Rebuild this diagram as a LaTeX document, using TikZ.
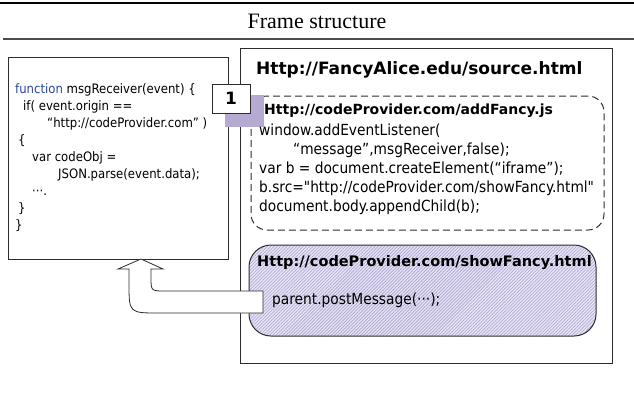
\documentclass[tikz,border=0pt]{standalone}
\usepackage{fontspec}
\setmainfont{Liberation Serif}
\newfontfamily\codefont{DejaVu Sans Condensed}
\newfontfamily\urlfont{DejaVu Sans}
\usetikzlibrary{patterns.meta}
\definecolor{lavender}{RGB}{183,170,210}
\definecolor{hatchbg}{RGB}{232,230,246}
\definecolor{hatchline}{RGB}{178,170,212}
\definecolor{keyblue}{RGB}{40,70,160}
\definecolor{frameline}{RGB}{45,45,45}
\tikzset{
  framebox/.style={draw=frameline,line width=1pt,inner sep=0pt},
  codetext/.style={anchor=north west,align=left,inner sep=0pt,font=\codefont\fontsize{15.3}{18.9}\selectfont},
  urltitle/.style={anchor=west,inner sep=0pt,font=\urlfont\bfseries\fontsize{14.5}{17}\selectfont},
}
\begin{document}
\begin{tikzpicture}[x=1pt,y=-1pt]
\useasboundingbox (0,0) rectangle (634,400);

% caption with rules
\coordinate (rule1l) at (0,3);
\coordinate (rule1r) at (634,3);
\coordinate (rule2l) at (3,39);
\coordinate (rule2r) at (634,39);
\draw[line width=1.2pt] (rule1l) -- (rule1r);
\draw[line width=2pt,draw=black!70] (rule2l) -- (rule2r);
\node[inner sep=0pt,font=\fontsize{22}{22}\selectfont] (caption) at (317,21) {Frame structure};

% boxes
\node[framebox,minimum width=372pt,minimum height=315pt] (page) at (426,205.5) {};
\node[framebox,minimum width=220pt,minimum height=202pt] (recv) at (118,158) {};
\node[framebox,dash pattern=on 7pt off 4pt,rounded corners=16pt,minimum width=353pt,minimum height=134pt] (script) at (427.5,163) {};
\node[framebox,rounded corners=22pt,minimum width=347pt,minimum height=91pt,preaction={fill=hatchbg},pattern={Lines[angle=45,distance=2.3pt,line width=0.8pt]},pattern color=hatchline] (iframe) at (422.5,290.5) {};
\node[fill=lavender,inner sep=0pt,minimum width=39pt,minimum height=32pt] (mark) at (244.5,111) {};
\node[framebox,fill=white,minimum width=38pt,minimum height=29pt,font=\urlfont\bfseries\fontsize{17}{17}\selectfont] (step1) at (231,98.5) {1};

% texts
\node[urltitle,font=\urlfont\bfseries\fontsize{17}{17}\selectfont] (pagetitle) at (256,70) {Http://FancyAlice.edu/source.html};
\node[urltitle,font=\urlfont\bfseries\fontsize{14}{17}\selectfont] (scripttitle) at (264,111) {Http://codeProvider.com/addFancy.js};
\node[urltitle] (iframetitle) at (257,263) {Http://codeProvider.com/showFancy.html};

\node[codetext,font=\codefont\fontsize{13}{17.1}\selectfont] (recvcode) at (15,83) {%
  \textcolor{keyblue}{function} msgReceiver(event) \{\\
  \hspace*{8pt}if( event.origin ==\\
  \hspace*{32pt}“http://codeProvider.com” )\\
  \hspace*{3pt}\{\\
  \hspace*{17pt}var codeObj =\\
  \hspace*{43pt}JSON.parse(event.data);\\
  \hspace*{17pt}···.\\
  \hspace*{3pt}\}\\
  \}};
\node[codetext] (scriptcode) at (259,124) {%
  window.addEventListener(\\
  \hspace*{34pt}“message”,msgReceiver,false);\\
  var b = document.createElement(“iframe”);\\
  b.src="http://codeProvider.com/showFancy.html"\\
  document.body.appendChild(b);};
\node[codetext,anchor=west] (post) at (272,300) {parent.postMessage(···);};

% message arrow
\draw[draw=frameline,line width=0.8pt,fill=white]
  (263,291) -- (165,291) .. controls (151,291) .. (151,277) -- (151,269)
  -- (163,269) -- (141,259) -- (118,269) -- (129,269) -- (129,283)
  .. controls (129,313) .. (159,313) -- (263,313) -- cycle;
\end{tikzpicture}
\end{document}
